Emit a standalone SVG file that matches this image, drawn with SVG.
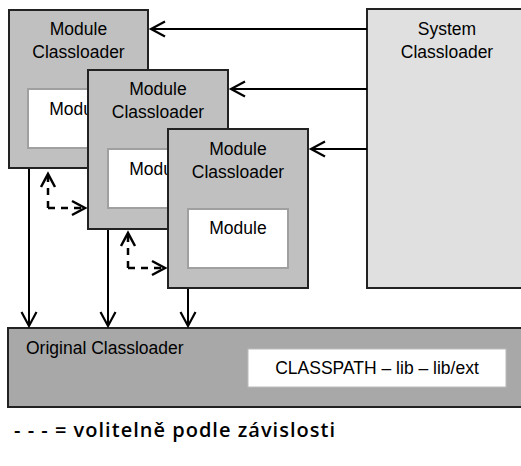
<svg xmlns="http://www.w3.org/2000/svg" width="521" height="466" viewBox="0 0 521 466">
<defs>
<marker id="ah" markerUnits="userSpaceOnUse" markerWidth="20" markerHeight="20" viewBox="-16 -10 20 20" refX="0" refY="0" orient="auto">
<path d="M-14,-7.5 L0,0 L-14,7.5" fill="none" stroke="#000" stroke-width="2.2"/>
</marker>
<marker id="ahd" markerUnits="userSpaceOnUse" markerWidth="20" markerHeight="20" viewBox="-16 -10 20 20" refX="0" refY="0" orient="auto">
<path d="M-13,-7 L0,0 L-13,7" fill="none" stroke="#000" stroke-width="2.5"/>
</marker>
</defs>
<style>
.mod{fill:#c0c0c0;stroke:#222;stroke-width:2}
.inner{fill:#fff;stroke:#a0a0a0;stroke-width:2}
.sys{fill:#e0e0e0;stroke:#222;stroke-width:2}
.orig{fill:#a8a8a8;stroke:#222;stroke-width:2}
text{font-family:"Liberation Sans",Arial,sans-serif;font-size:17.5px;fill:#000}
.c{text-anchor:middle}
.line{stroke:#000;stroke-width:2;fill:none;marker-end:url(#ah)}
.dash{stroke:#000;stroke-width:2.5;fill:none;stroke-dasharray:7 6;marker-end:url(#ahd)}
.legend{font-family:"Open Sans","DejaVu Sans",sans-serif;font-size:20px;font-weight:600}
</style>
<g id="system">
<rect class="sys" x="367" y="9" width="160" height="279"/>
<text class="c" x="447" y="35">System</text>
<text class="c" x="447" y="58">Classloader</text>
</g>
<g id="original">
<rect class="orig" x="8" y="328" width="520" height="79"/>
<text x="26" y="354">Original Classloader</text>
<rect x="248" y="349" width="258" height="38" fill="#fff" stroke="#bbb" stroke-width="1"/>
<text class="c" x="377" y="374">CLASSPATH – lib – lib/ext</text>
</g>
<g id="connectors">
<line class="line" x1="367" y1="29" x2="151" y2="29"/>
<line class="line" x1="367" y1="89" x2="231" y2="89"/>
<line class="line" x1="367" y1="149" x2="311" y2="149"/>
<line class="line" x1="29" y1="169" x2="29" y2="326"/>
<line class="line" x1="108" y1="230" x2="108" y2="326"/>
<line class="line" x1="188" y1="289" x2="188" y2="326"/>
<path class="dash" d="M48,208 L48,174"/>
<path class="dash" d="M48,208 L85,208"/>
<path class="dash" d="M128,268 L128,233"/>
<path class="dash" d="M128,268 L165,268"/>
</g>
<g id="module1">
<rect class="mod" x="9" y="10" width="139" height="158"/>
<text class="c" x="78.5" y="35">Module</text>
<text class="c" x="78.5" y="58">Classloader</text>
<rect class="inner" x="28" y="89" width="100" height="59"/>
<text class="c" x="78" y="115">Module</text>
</g>
<g id="module2">
<rect class="mod" x="88" y="70" width="140" height="159"/>
<text class="c" x="158" y="95">Module</text>
<text class="c" x="158" y="118">Classloader</text>
<rect class="inner" x="108" y="149" width="100" height="59"/>
<text class="c" x="158" y="175">Module</text>
</g>
<g id="module3">
<rect class="mod" x="168" y="129" width="140" height="159"/>
<text class="c" x="238" y="155">Module</text>
<text class="c" x="238" y="178">Classloader</text>
<rect class="inner" x="188" y="209" width="100" height="59"/>
<text class="c" x="238" y="234">Module</text>
</g>
<g id="legend">
<text class="legend" x="14" y="437" textLength="321" lengthAdjust="spacing">- - -  = volitelně podle závislosti</text>
</g>
</svg>
